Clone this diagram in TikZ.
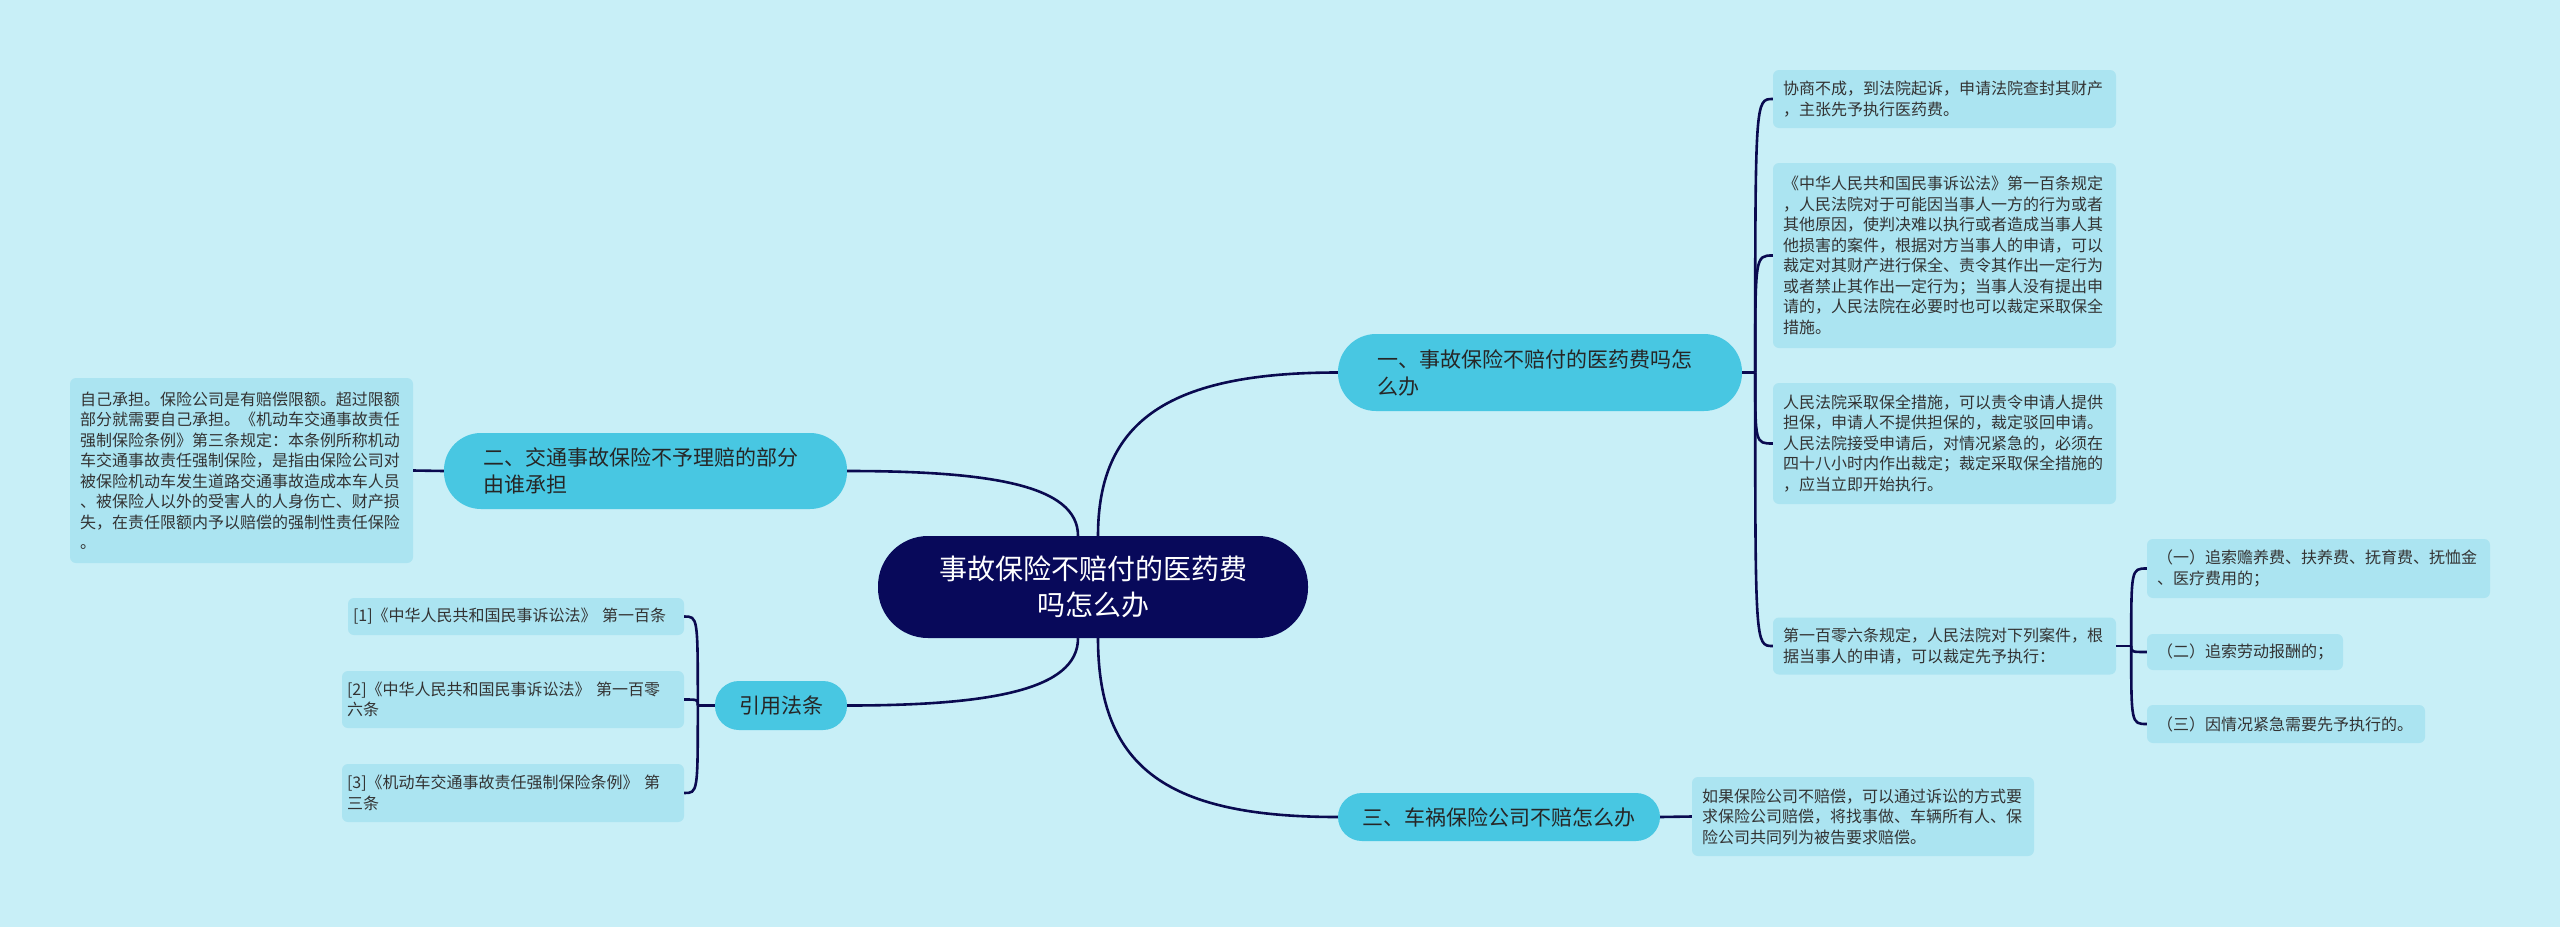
\documentclass[tikz,border=0pt]{standalone}
\usepackage{fontspec}
\setmainfont{Noto Sans CJK SC}
\definecolor{bg}{HTML}{C8EFF7}
\definecolor{leafc}{HTML}{ABE4F1}
\definecolor{branchc}{HTML}{48C7E2}
\definecolor{rootc}{HTML}{08095A}
\definecolor{linec}{HTML}{0A0A50}
\definecolor{txt}{HTML}{333333}
\begin{document}
\begin{tikzpicture}[x=1pt,y=-1pt,
  conn/.style={draw=linec, line width=2.6pt},
  leaf/.style={fill=leafc, rounded corners=6pt, inner xsep=10pt, inner ysep=0pt, text=txt, align=left, font=\fontsize{16pt}{20.5pt}\selectfont},
  branch/.style={fill=branchc, inner ysep=0pt, text=black!85, align=left, font=\fontsize{21pt}{27pt}\selectfont},
  rootnode/.style={fill=rootc, text=white, align=center, inner ysep=0pt, font=\fontsize{28pt}{36.5pt}\selectfont}]
\fill[bg] (0,0) rectangle (2560,927);
\useasboundingbox (0,0) rectangle (2560,927);

% root
\node[rootnode, rounded corners=50pt, inner xsep=40pt, text width=350pt, minimum height=102pt] (C) at (1093,587) {事故保险不赔付的医药费\\吗怎么办};

% branches
\node[branch, rounded corners=38pt, inner xsep=39pt, text width=326pt, minimum height=77pt] (B1) at (1540,372.5) {一、事故保险不赔付的医药费吗怎\\么办};
\node[branch, rounded corners=37pt, inner xsep=39pt, text width=325pt, minimum height=76pt] (B2) at (645.5,471) {二、交通事故保险不予理赔的部分\\由谁承担};
\node[branch, rounded corners=24pt, inner xsep=24.5pt, text width=273pt, minimum height=48pt] (B3) at (1499,817) {三、车祸保险公司不赔怎么办};
\node[branch, rounded corners=24pt, inner xsep=24pt, text width=84pt, minimum height=49pt] (R) at (781,705.5) {引用法条};

% leaves of branch 1
\node[leaf, text width=323pt, minimum height=58pt] (L1) at (1944.5,99) {协商不成，到法院起诉，申请法院查封其财产\\，主张先予执行医药费。};
\node[leaf, text width=323pt, minimum height=185pt] (L2) at (1944.5,255.5) {《中华人民共和国民事诉讼法》第一百条规定\\，人民法院对于可能因当事人一方的行为或者\\其他原因，使判决难以执行或者造成当事人其\\他损害的案件，根据对方当事人的申请，可以\\裁定对其财产进行保全、责令其作出一定行为\\或者禁止其作出一定行为；当事人没有提出申\\请的，人民法院在必要时也可以裁定采取保全\\措施。};
\node[leaf, text width=323pt, minimum height=121pt] (L3) at (1944.5,443.5) {人民法院采取保全措施，可以责令申请人提供\\担保，申请人不提供担保的，裁定驳回申请。\\人民法院接受申请后，对情况紧急的，必须在\\四十八小时内作出裁定；裁定采取保全措施的\\，应当立即开始执行。};
\node[leaf, text width=323pt, minimum height=57pt] (L4) at (1944.5,646) {第一百零六条规定，人民法院对下列案件，根\\据当事人的申请，可以裁定先予执行：};

% sub leaves
\node[leaf, text width=323pt, minimum height=59pt] (A1) at (2318.5,568.5) {（一）追索赡养费、扶养费、抚育费、抚恤金\\、医疗费用的；};
\node[leaf, text width=176pt, minimum height=36pt] (A2) at (2245,652) {（二）追索劳动报酬的；};
\node[leaf, text width=258pt, minimum height=38pt] (A3) at (2286,724) {（三）因情况紧急需要先予执行的。};

% leaf of branch 3
\node[leaf, text width=322pt, minimum height=79pt] (L5) at (1863,816.5) {如果保险公司不赔偿，可以通过诉讼的方式要\\求保险公司赔偿，将找事做、车辆所有人、保\\险公司共同列为被告要求赔偿。};

% leaf of branch 2
\node[leaf, text width=323pt, minimum height=185pt] (LL) at (241.5,470.5) {自己承担。保险公司是有赔偿限额。超过限额\\部分就需要自己承担。《机动车交通事故责任\\强制保险条例》第三条规定：本条例所称机动\\车交通事故责任强制保险，是指由保险公司对\\被保险机动车发生道路交通事故造成本车人员\\、被保险人以外的受害人的人身伤亡、财产损\\失，在责任限额内予以赔偿的强制性责任保险\\。};

% reference leaves
\node[leaf, inner xsep=5pt, text width=326pt, minimum height=37pt] (R1) at (516,616.5) {[1]《中华人民共和国民事诉讼法》~第一百条};
\node[leaf, inner xsep=5pt, text width=332pt, minimum height=57pt] (R2) at (513,699.5) {[2]《中华人民共和国民事诉讼法》~第一百零\\六条};
\node[leaf, inner xsep=5pt, text width=332pt, minimum height=58pt] (R3) at (513,793) {[3]《机动车交通事故责任强制保险条例》~第\\三条};

% connectors root -> branches
\draw[conn] ([xshift=5pt]C.north) .. controls (1098,420) and (1170,372.5) .. (B1.west);
\draw[conn] ([xshift=-15pt]C.north) .. controls (1078,485) and (990,471) .. (B2.east);
\draw[conn] ([xshift=-15pt]C.south) .. controls (1078,690) and (990,705.5) .. (R.east);
\draw[conn] ([xshift=5pt]C.south) .. controls (1098,770) and (1170,817) .. (B3.west);

% branch 1 group
\coordinate (s1) at ([xshift=13pt]B1.east);
\draw[conn] (B1.east) -- (s1);
\foreach \n in {L1,L2,L3,L4}{
  \draw[conn] (s1) .. controls (s1 |- \n.west) .. (\n.west);
}

% sub group
\coordinate (s2) at ([xshift=15pt]L4.east);
\draw[conn] (L4.east) -- (s2);
\foreach \n in {A1,A2,A3}{
  \draw[conn] (s2) .. controls (s2 |- \n.west) .. (\n.west);
}

% branch 2 and 3
\draw[conn] (B2.west) -- (LL.east);
\draw[conn] (B3.east) -- (L5.west);

% reference group
\coordinate (s3) at ([xshift=-17pt]R.west);
\draw[conn] (R.west) -- (s3);
\foreach \n in {R1,R2,R3}{
  \draw[conn] (s3) .. controls (s3 |- \n.east) .. (\n.east);
}
\end{tikzpicture}
\end{document}
